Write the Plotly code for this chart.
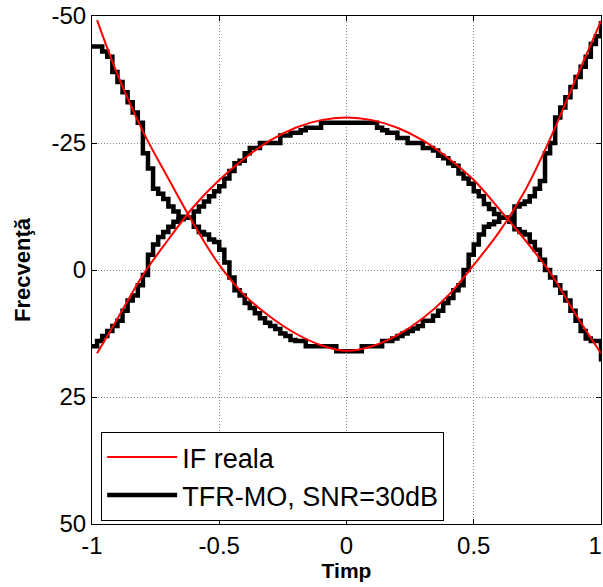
import numpy as np
import plotly.graph_objects as go

# IF reala (doua componente)
t_if = [-0.98, -0.9, -0.8, -0.7, -0.6, -0.5, -0.4, -0.3, -0.2, -0.1, 0.0,
        0.1, 0.2, 0.3, 0.4, 0.5, 0.6, 0.7, 0.8, 0.9, 1.0]
if_jos = [-49.2, -38.5, -27.3, -18.0, -9.0, -1.0, 5.0, 9.2, 12.5, 14.8, 15.9,
          15.0, 12.8, 9.5, 5.0, -1.0, -7.5, -15.5, -25.8, -37.5, -49.0]
if_sus = [16.4, 9.6, 1.0, -6.0, -12.5, -17.7, -22.0, -25.5, -28.0, -29.5, -30.0,
          -29.5, -28.0, -25.5, -22.0, -17.7, -12.0, -6.0, 0.5, 8.7, 16.4]

# TFR-MO, esantionat in timp (pas 0.02)
t_tfr = np.linspace(-1, 1, 101)
tfr_sus = [-44, -44, -43, -42, -39, -37, -35, -33, -31, -29,
           -23, -20, -16, -15, -14, -12.5, -11.5, -10.5, -10.3, -10.3,
           -11.5, -12.5, -13.5, -14.5, -15.5, -16.5, -18, -19.5, -21, -21.5,
           -23, -24, -24, -25, -25, -25, -25, -26.5, -26.5, -27,
           -27, -27.5, -28, -28, -28, -29, -29, -29, -29, -29,
           -29, -29, -29, -29, -29, -29, -28, -27.5, -27, -27,
           -26, -26, -25, -25, -25, -24, -24, -23.5, -22.5, -22,
           -21, -20.5, -19, -18, -17, -15.5, -14.5, -13, -12, -11,
           -10.3, -10.3, -10.3, -12.5, -13, -13.5, -14.5, -16, -17.5, -23,
           -25, -30, -32, -34, -36, -38, -40, -42, -44.5, -46,
           -49]
tfr_jos = [15, 14, 13, 12, 11, 10, 8, 6, 5, 3,
           1, -3, -5, -6.5, -7.5, -8.5, -9.5, -10, -10.3, -10.3,
           -8.5, -7.5, -7, -6, -5.5, -4, -1.5, 1.5, 4, 5,
           6.5, 7.5, 8.5, 9.5, 10.4, 11, 11.6, 12.5, 13, 13.8,
           14, 14, 15, 15, 15, 15, 15, 15, 16, 16,
           16, 16, 16, 15, 15, 15, 15, 14, 14, 13.5,
           13, 12.5, 12, 11.5, 11, 10, 10, 9, 8, 6.5,
           5.5, 4, 3, 0, -3, -5, -7, -8.5, -9, -9.5,
           -10.3, -10.3, -9.5, -8, -7.5, -7, -5.5, -4, -2, 0,
           1.5, 3, 4.5, 6, 8, 10, 12, 13.5, 14, 14,
           18]

x_ticks = [-1, -0.5, 0, 0.5, 1]
# ultima eticheta putin spre stanga ca sa nu fie taiata de marginea paginii
x_labels = ['-1', '-0.5', '0', '0.5', '1\u00a0\u2009']
y_ticks = [-50, -25, 0, 25, 50]
y_labels = ['-50', '-25', '0', '25', '50']

font = 'Arial, Liberation Sans, sans-serif'

fig = go.Figure()

# negru intai (rosul se vede deasupra)
fig.add_trace(go.Scatter(x=t_tfr, y=tfr_sus, mode='lines', line_shape='hv',
                         line=dict(color='black', width=4.5),
                         name='TFR-MO, SNR=30dB', legendgroup='b', legendrank=2))
fig.add_trace(go.Scatter(x=t_tfr, y=tfr_jos, mode='lines', line_shape='hv',
                         line=dict(color='black', width=4.5),
                         showlegend=False, legendgroup='b'))
fig.add_trace(go.Scatter(x=t_if, y=if_jos, mode='lines', line_shape='spline',
                         line=dict(color='#ff0000', width=2),
                         name='IF reala', legendgroup='r', legendrank=1))
fig.add_trace(go.Scatter(x=t_if, y=if_sus, mode='lines', line_shape='spline',
                         line=dict(color='#ff0000', width=2),
                         showlegend=False, legendgroup='r'))

axis_common = dict(showline=True, linecolor='black', linewidth=1, mirror='ticks',
                   ticks='inside', ticklen=5, tickcolor='black', automargin=False,
                   ticklabeloverflow='allow',
                   showgrid=True, gridcolor='#888888', gridwidth=1, griddash='1px,2px',
                   zeroline=False, tickfont=dict(family=font, size=24, color='black'))

fig.update_xaxes(range=[-1, 1], tickvals=x_ticks, ticktext=x_labels,
                 title=dict(text='<b>Timp</b>', font=dict(family=font, size=21, color='black'),
                            standoff=0),
                 **axis_common)
fig.update_yaxes(range=[50, -50], tickvals=y_ticks, ticktext=y_labels,
                 title=dict(text='<b>Frecvenţă</b>', font=dict(family=font, size=22, color='black'),
                            standoff=14),
                 **axis_common)

fig.update_layout(
    width=603, height=587,
    margin=dict(l=92, r=2, t=16, b=63),
    plot_bgcolor='white', paper_bgcolor='white',
    legend=dict(x=0.018, y=0.006, xanchor='left', yanchor='bottom',
                bgcolor='white', bordercolor='black', borderwidth=1,
                font=dict(family=font, size=27, color='black'),
                itemwidth=70,
                traceorder='grouped', tracegroupgap=0),
)

# fara marginea implicita a paginii
fig.write_html("out.html", config={'displayModeBar': False},
               post_script="document.body.style.margin='0';")
